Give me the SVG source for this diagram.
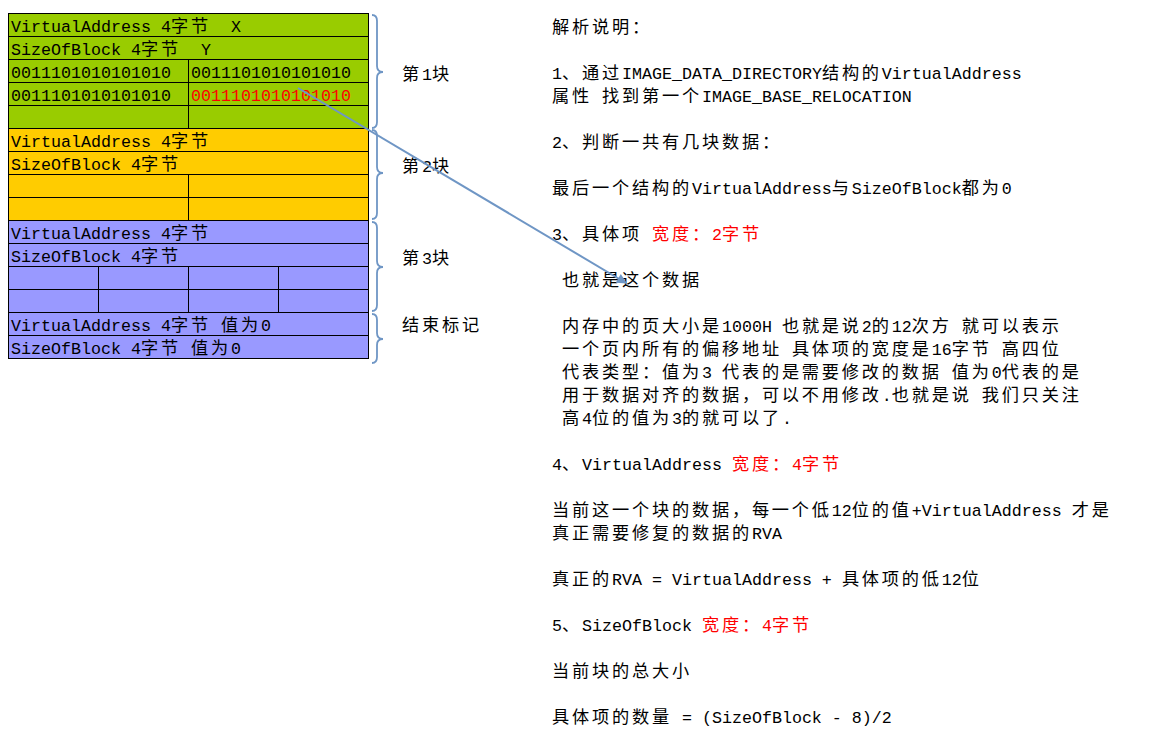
<svg xmlns="http://www.w3.org/2000/svg" width="1167" height="742" viewBox="0 0 1167 742">
<style>
text{white-space:pre}
.t{font-family:"Noto Sans CJK SC",sans-serif;font-size:17.2px;letter-spacing:2.8px;fill:#000}
.tm{font-family:"Liberation Mono","Noto Sans CJK SC",monospace;font-size:16.67px;letter-spacing:0}
.r{font-family:"Noto Sans CJK SC",sans-serif;font-size:17.2px;letter-spacing:2.8px;fill:#000}
.m{font-family:"Liberation Mono",monospace;font-size:16.67px;letter-spacing:0}
.red{fill:#ff0000}
.g{fill:#99cc00}
.o{fill:#ffcc00}
.p{fill:#9999ff}
.cell{stroke:#000;stroke-width:1}
.ln{stroke:#000;stroke-width:1;fill:none}
.brace{fill:none;stroke:#6f96c5;stroke-width:1.8}
.conn{stroke:#6f96c5;stroke-width:2;fill:none}
</style>
<defs>
<marker id="ah" viewBox="0 0 10 10" refX="9" refY="5" markerWidth="6" markerHeight="5" markerUnits="strokeWidth" orient="auto">
<path d="M0,0 L10,5 L0,10 z" fill="#6f96c5" stroke="none"/>
</marker>
</defs>
<rect width="1167" height="742" fill="#fff"/>

<g id="block1">
<rect class="g cell" x="8.5" y="13.5" width="360" height="115"/>
<path class="ln" d="M8.5 36.5H368.5M8.5 59.5H368.5M8.5 82.5H368.5M8.5 105.5H368.5M188.5 59.5V128.5"/>
<text class="t" x="11" y="32"><tspan class="tm">VirtualAddress 4</tspan>字节<tspan class="tm">  X</tspan></text>
<text class="t" x="11" y="55"><tspan class="tm">SizeOfBlock 4</tspan>字节<tspan class="tm">  Y</tspan></text>
<text class="t tm" x="11" y="78">0011101010101010</text>
<text class="t tm" x="191" y="78">0011101010101010</text>
<text class="t tm" x="11" y="101">0011101010101010</text>
<text class="t tm red" x="191" y="101">0011101010101010</text>
</g>

<g id="block2">
<rect class="o cell" x="8.5" y="128.5" width="360" height="92"/>
<path class="ln" d="M8.5 151.5H368.5M8.5 174.5H368.5M8.5 197.5H368.5M188.5 174.5V220.5"/>
<text class="t" x="11" y="147"><tspan class="tm">VirtualAddress 4</tspan>字节</text>
<text class="t" x="11" y="170"><tspan class="tm">SizeOfBlock 4</tspan>字节</text>
</g>

<g id="block3">
<rect class="p cell" x="8.5" y="220.5" width="360" height="92"/>
<path class="ln" d="M8.5 243.5H368.5M8.5 266.5H368.5M8.5 289.5H368.5M98.5 266.5V312.5M188.5 266.5V312.5M278.5 266.5V312.5"/>
<text class="t" x="11" y="239"><tspan class="tm">VirtualAddress 4</tspan>字节</text>
<text class="t" x="11" y="262"><tspan class="tm">SizeOfBlock 4</tspan>字节</text>
</g>

<g id="end-marker">
<rect class="p cell" x="8.5" y="312.5" width="360" height="46"/>
<path class="ln" d="M8.5 335.5H368.5"/>
<text class="t" x="11" y="331"><tspan class="tm">VirtualAddress 4</tspan>字节<tspan class="tm"> </tspan>值为<tspan class="tm">0</tspan></text>
<text class="t" x="11" y="354"><tspan class="tm">SizeOfBlock 4</tspan>字节<tspan class="tm"> </tspan>值为<tspan class="tm">0</tspan></text>
</g>

<g id="braces">
<path class="brace" d="M372 15Q377 15 377 21L377 66Q377 72 383 72Q377 72 377 78L377 122Q377 128 372 128"/>
<path class="brace" d="M372 130Q377 130 377 136L377 167Q377 173 383 173Q377 173 377 179L377 213Q377 219 372 219"/>
<path class="brace" d="M372 222Q377 222 377 228L377 261Q377 267 383 267Q377 267 377 273L377 305Q377 311 372 311"/>
<path class="brace" d="M372 314Q377 314 377 320L377 333Q377 339 383 339Q377 339 377 345L377 357Q377 363 372 363"/>
</g>

<g id="labels">
<text class="t" x="402" y="80">第<tspan class="tm">1</tspan>块</text>
<text class="t" x="402" y="172">第<tspan class="tm">2</tspan>块</text>
<text class="t" x="402" y="264">第<tspan class="tm">3</tspan>块</text>
<text class="t" x="402" y="331">结束标记</text>
</g>

<g id="description">
<text class="r" x="552" y="33">解析说明：</text>
<text class="r" x="552" y="79"><tspan class="m">1</tspan>、通过<tspan class="m">IMAGE_DATA_DIRECTORY</tspan>结构的<tspan class="m">VirtualAddress</tspan></text>
<text class="r" x="552" y="102">属性<tspan class="m"> </tspan>找到第一个<tspan class="m">IMAGE_BASE_RELOCATION</tspan></text>
<text class="r" x="552" y="148"><tspan class="m">2</tspan>、判断一共有几块数据：</text>
<text class="r" x="552" y="194">最后一个结构的<tspan class="m">VirtualAddress</tspan>与<tspan class="m">SizeOfBlock</tspan>都为<tspan class="m">0</tspan></text>
<text class="r" x="552" y="240"><tspan class="m">3</tspan>、具体项<tspan class="m"> </tspan><tspan class="red">宽度：</tspan><tspan class="m red">2</tspan><tspan class="red">字节</tspan></text>
<text class="r" x="562" y="286">也就是这个数据</text>
<text class="r" x="562" y="332">内存中的页大小是<tspan class="m">1000H </tspan>也就是说<tspan class="m">2</tspan>的<tspan class="m">12</tspan>次方<tspan class="m"> </tspan>就可以表示</text>
<text class="r" x="562" y="355">一个页内所有的偏移地址<tspan class="m"> </tspan>具体项的宽度是<tspan class="m">16</tspan>字节<tspan class="m"> </tspan>高四位</text>
<text class="r" x="562" y="378">代表类型：值为<tspan class="m">3 </tspan>代表的是需要修改的数据<tspan class="m"> </tspan>值为<tspan class="m">0</tspan>代表的是</text>
<text class="r" x="562" y="401">用于数据对齐的数据，可以不用修改<tspan class="m">.</tspan>也就是说<tspan class="m"> </tspan>我们只关注</text>
<text class="r" x="562" y="424">高<tspan class="m">4</tspan>位的值为<tspan class="m">3</tspan>的就可以了<tspan class="m">.</tspan></text>
<text class="r" x="552" y="470"><tspan class="m">4</tspan>、<tspan class="m">VirtualAddress </tspan><tspan class="red">宽度：</tspan><tspan class="m red">4</tspan><tspan class="red">字节</tspan></text>
<text class="r" x="552" y="516">当前这一个块的数据，每一个低<tspan class="m">12</tspan>位的值<tspan class="m">+VirtualAddress </tspan>才是</text>
<text class="r" x="552" y="539">真正需要修复的数据的<tspan class="m">RVA</tspan></text>
<text class="r" x="552" y="585">真正的<tspan class="m">RVA = VirtualAddress + </tspan>具体项的低<tspan class="m">12</tspan>位</text>
<text class="r" x="552" y="631"><tspan class="m">5</tspan>、<tspan class="m">SizeOfBlock </tspan><tspan class="red">宽度：</tspan><tspan class="m red">4</tspan><tspan class="red">字节</tspan></text>
<text class="r" x="552" y="677">当前块的总大小</text>
<text class="r" x="552" y="723">具体项的数量<tspan class="m"> = (SizeOfBlock - 8)/2</tspan></text>
</g>

<g id="connectors">
<line class="conn" x1="298" y1="88" x2="626" y2="283" marker-end="url(#ah)"/>
</g>
</svg>
